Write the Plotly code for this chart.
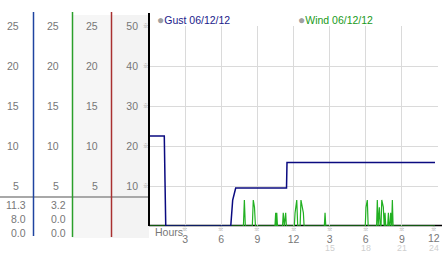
import plotly.graph_objects as go

# ---------------- data ----------------
gust_hours = [0.0, 1.27, 1.33, 1.39, 6.79, 6.95, 7.2, 11.42, 11.46, 23.75]
gust_mph = [22.5, 22.5, 11.0, 0.0, 0.0, 6.5, 9.5, 9.5, 15.9, 15.9]

wind_hours = [0.0,
              7.84, 7.92, 8.0,
              8.58, 8.66, 8.76, 8.84,
              10.46, 10.52, 10.56, 10.61, 10.67,
              11.09, 11.15, 11.24, 11.35, 11.41,
              12.07, 12.13, 12.27, 12.35,
              12.55, 12.62, 12.73, 12.82, 12.88,
              14.56, 14.62, 14.68,
              17.96, 18.02, 18.13, 18.2,
              18.9, 18.96, 19.03, 19.13, 19.2, 19.27, 19.33, 19.46, 19.53,
              19.55, 19.6, 19.66, 19.82, 19.88, 19.94, 20.01, 20.07, 20.13, 20.15, 20.21, 20.27,
              23.75]
wind_mph = [0.0,
            0.0, 6.5, 0.0,
            0.0, 6.5, 4.7, 0.0,
            0.0, 3.3, 0.0, 3.3, 0.0,
            0.0, 3.3, 0.0, 3.3, 0.0,
            0.0, 3.3, 6.5, 0.0,
            0.0, 6.5, 4.7, 3.3, 0.0,
            0.0, 3.3, 0.0,
            0.0, 4.7, 6.5, 0.0,
            0.0, 6.5, 0.0, 4.7, 0.0, 0.0, 6.5, 4.7, 0.0,
            0.0, 3.3, 0.0, 0.0, 3.3, 0.0, 0.0, 3.3, 0.0, 0.0, 6.5, 0.0,
            0.0]

series_names = ["Gust 06/12/12", "Wind 06/12/12"]

main_ticks = [10, 20, 30, 40, 50]
main_tick_labels = ["10", "20", "30", "40", "50"]
side_tick_labels = ["5", "10", "15", "20", "25"]
hour_ticks = [3, 6, 9, 12, 15, 18, 21]
hour_labels = ["3", "6", "9", "12", "3", "6", "9"]
last_tick, last_label = 24, "12"
hour_labels2 = {15: "15", 18: "18", 21: "21", 24: "24"}

col1_stats = ["11.3", "8.0", "0.0"]
col2_stats = ["3.2", "0.0", "0.0"]

# ---------------- geometry helpers ----------------
W, H = 442, 253
L, R, T, B = 149, 438, 26, 226


def px_x(px):
    return (px - L) / (R - L)


def px_y(py):
    return (B - py) / (B - T)


FONT = "Liberation Sans, Arial, sans-serif"
GRAY = "#777777"
MARK = dict(family="Noto Sans CJK JP", size=5.5, color="#8a8a8a")

fig = go.Figure()
fig.add_trace(go.Scatter(x=wind_hours, y=wind_mph, mode="lines",
                         line=dict(color="#22b022", width=1.2), name=series_names[1],
                         showlegend=False, hoverinfo="skip"))
fig.add_trace(go.Scatter(x=gust_hours, y=gust_mph, mode="lines",
                         line=dict(color="#0a0a80", width=1.5), name=series_names[0],
                         showlegend=False, hoverinfo="skip"))

shapes = []


def rect(x0, x1, y0, y1, color):
    shapes.append(dict(type="rect", xref="paper", yref="paper", x0=px_x(x0), x1=px_x(x1),
                       y0=px_y(y1), y1=px_y(y0), fillcolor=color, line=dict(width=0), layer="below"))


def line(x0, y0, x1, y1, color, width=1, layer="above"):
    shapes.append(dict(type="line", xref="paper", yref="paper", x0=px_x(x0), x1=px_x(x1),
                       y0=px_y(y0), y1=px_y(y1), line=dict(color=color, width=width), layer=layer))


rect(72, 111, 15, 238, "#f6f6f6")
rect(111, 149, 15, 238, "#f3f3f3")
line(0, 197, 149, 197, "#a8a8a8", 2)
line(33.5, 12, 33.5, 236, "#1f44a0", 1.5)
line(72.5, 12, 72.5, 237, "#2a9f2a", 1.5)
line(111.5, 12, 111.5, 237, "#a83030", 1.5)
line(149, 13, 149, 226, "#000000", 2)
line(149, 225.5, 442, 225.5, "#000000", 1.5, layer="below")

ann = []
# left-side scale labels
for v, lab in zip(main_ticks, side_tick_labels):
    for rx in (20.5, 60.5, 99.5):
        ann.append(dict(x=px_x(rx), y=v, xref="paper", yref="y", text=lab, showarrow=False,
                        xanchor="right", yanchor="middle", font=dict(family=FONT, size=10.5, color=GRAY)))
    ann.append(dict(x=px_x(145.5), y=v, xref="paper", yref="y", text="※", showarrow=False,
                    xanchor="center", yanchor="middle", font=MARK))
# stats
for i, (a, b) in enumerate(zip(col1_stats, col2_stats)):
    py = 204.5 + 14 * i
    ann.append(dict(x=px_x(27.5), y=px_y(py), xref="paper", yref="paper", text=a, showarrow=False,
                    xanchor="right", yanchor="middle", font=dict(family=FONT, size=10.5, color=GRAY)))
    ann.append(dict(x=px_x(67.5), y=px_y(py), xref="paper", yref="paper", text=b, showarrow=False,
                    xanchor="right", yanchor="middle", font=dict(family=FONT, size=10.5, color=GRAY)))
# x tick marks and second row
for h in hour_ticks + [last_tick]:
    xs = -4 if h == last_tick else 0
    ann.append(dict(x=h, y=px_y(229.3), xref="x", yref="paper", text="※", showarrow=False, xshift=xs,
                    xanchor="center", yanchor="middle", font=MARK))
    if h in hour_labels2:
        ann.append(dict(x=h, y=px_y(248), xref="x", yref="paper", text=hour_labels2[h], showarrow=False,
                        xanchor="center", yanchor="middle", xshift=xs,
                        font=dict(family=FONT, size=8.8, color="#cfcfcf")))
ann.append(dict(x=last_tick, y=px_y(238.3), xref="x", yref="paper", text=last_label, showarrow=False,
                xanchor="center", yanchor="middle", xshift=-4,
                font=dict(family=FONT, size=10.5, color=GRAY)))
ann.append(dict(x=px_x(153), y=px_y(232), xref="paper", yref="paper", text="Hours", showarrow=False,
                xanchor="left", yanchor="middle", font=dict(family=FONT, size=10.5, color=GRAY)))
# legend-like headers
for name, color, x0 in ((series_names[0], "#1a1a8a", 155), (series_names[1], "#1a9a1a", 296)):
    ann.append(dict(x=px_x(x0), y=px_y(20), xref="paper", yref="paper",
                    text="<span style='color:#a0a0a0;font-size:12px'>●</span>" + name, showarrow=False,
                    xanchor="left", yanchor="middle", font=dict(family=FONT, size=10.5, color=color)))

fig.update_layout(
    width=W, height=H,
    margin=dict(l=L, r=W - R, t=T, b=H - B, pad=0),
    paper_bgcolor="white", plot_bgcolor="white",
    shapes=shapes, annotations=ann, showlegend=False,
    xaxis=dict(range=[0, 24], tickvals=hour_ticks, ticktext=hour_labels, showgrid=False,
               zeroline=False, showline=False, ticks="",
               tickfont=dict(family=FONT, size=10.5, color=GRAY), ticklabelstandoff=5,
               fixedrange=True),
    xaxis2=dict(range=[0, 24], overlaying="x", tickvals=hour_ticks + [last_tick], showticklabels=False,
                showgrid=True, gridcolor="#dadada", gridwidth=1, zeroline=False, ticks="",
                fixedrange=True),
    yaxis=dict(range=[0, 50], tickvals=main_ticks, ticktext=main_tick_labels,
               showgrid=True, gridcolor="#dadada", gridwidth=1, zeroline=False, showline=False,
               ticks="", tickfont=dict(family=FONT, size=10.5, color=GRAY), ticklabelstandoff=10,
               fixedrange=True),
)
fig.add_trace(go.Scatter(x=[0, 24], y=[0, 0], xaxis="x2", mode="none", showlegend=False, hoverinfo="skip"))

fig.write_html("out.html", config={"displayModeBar": False})
